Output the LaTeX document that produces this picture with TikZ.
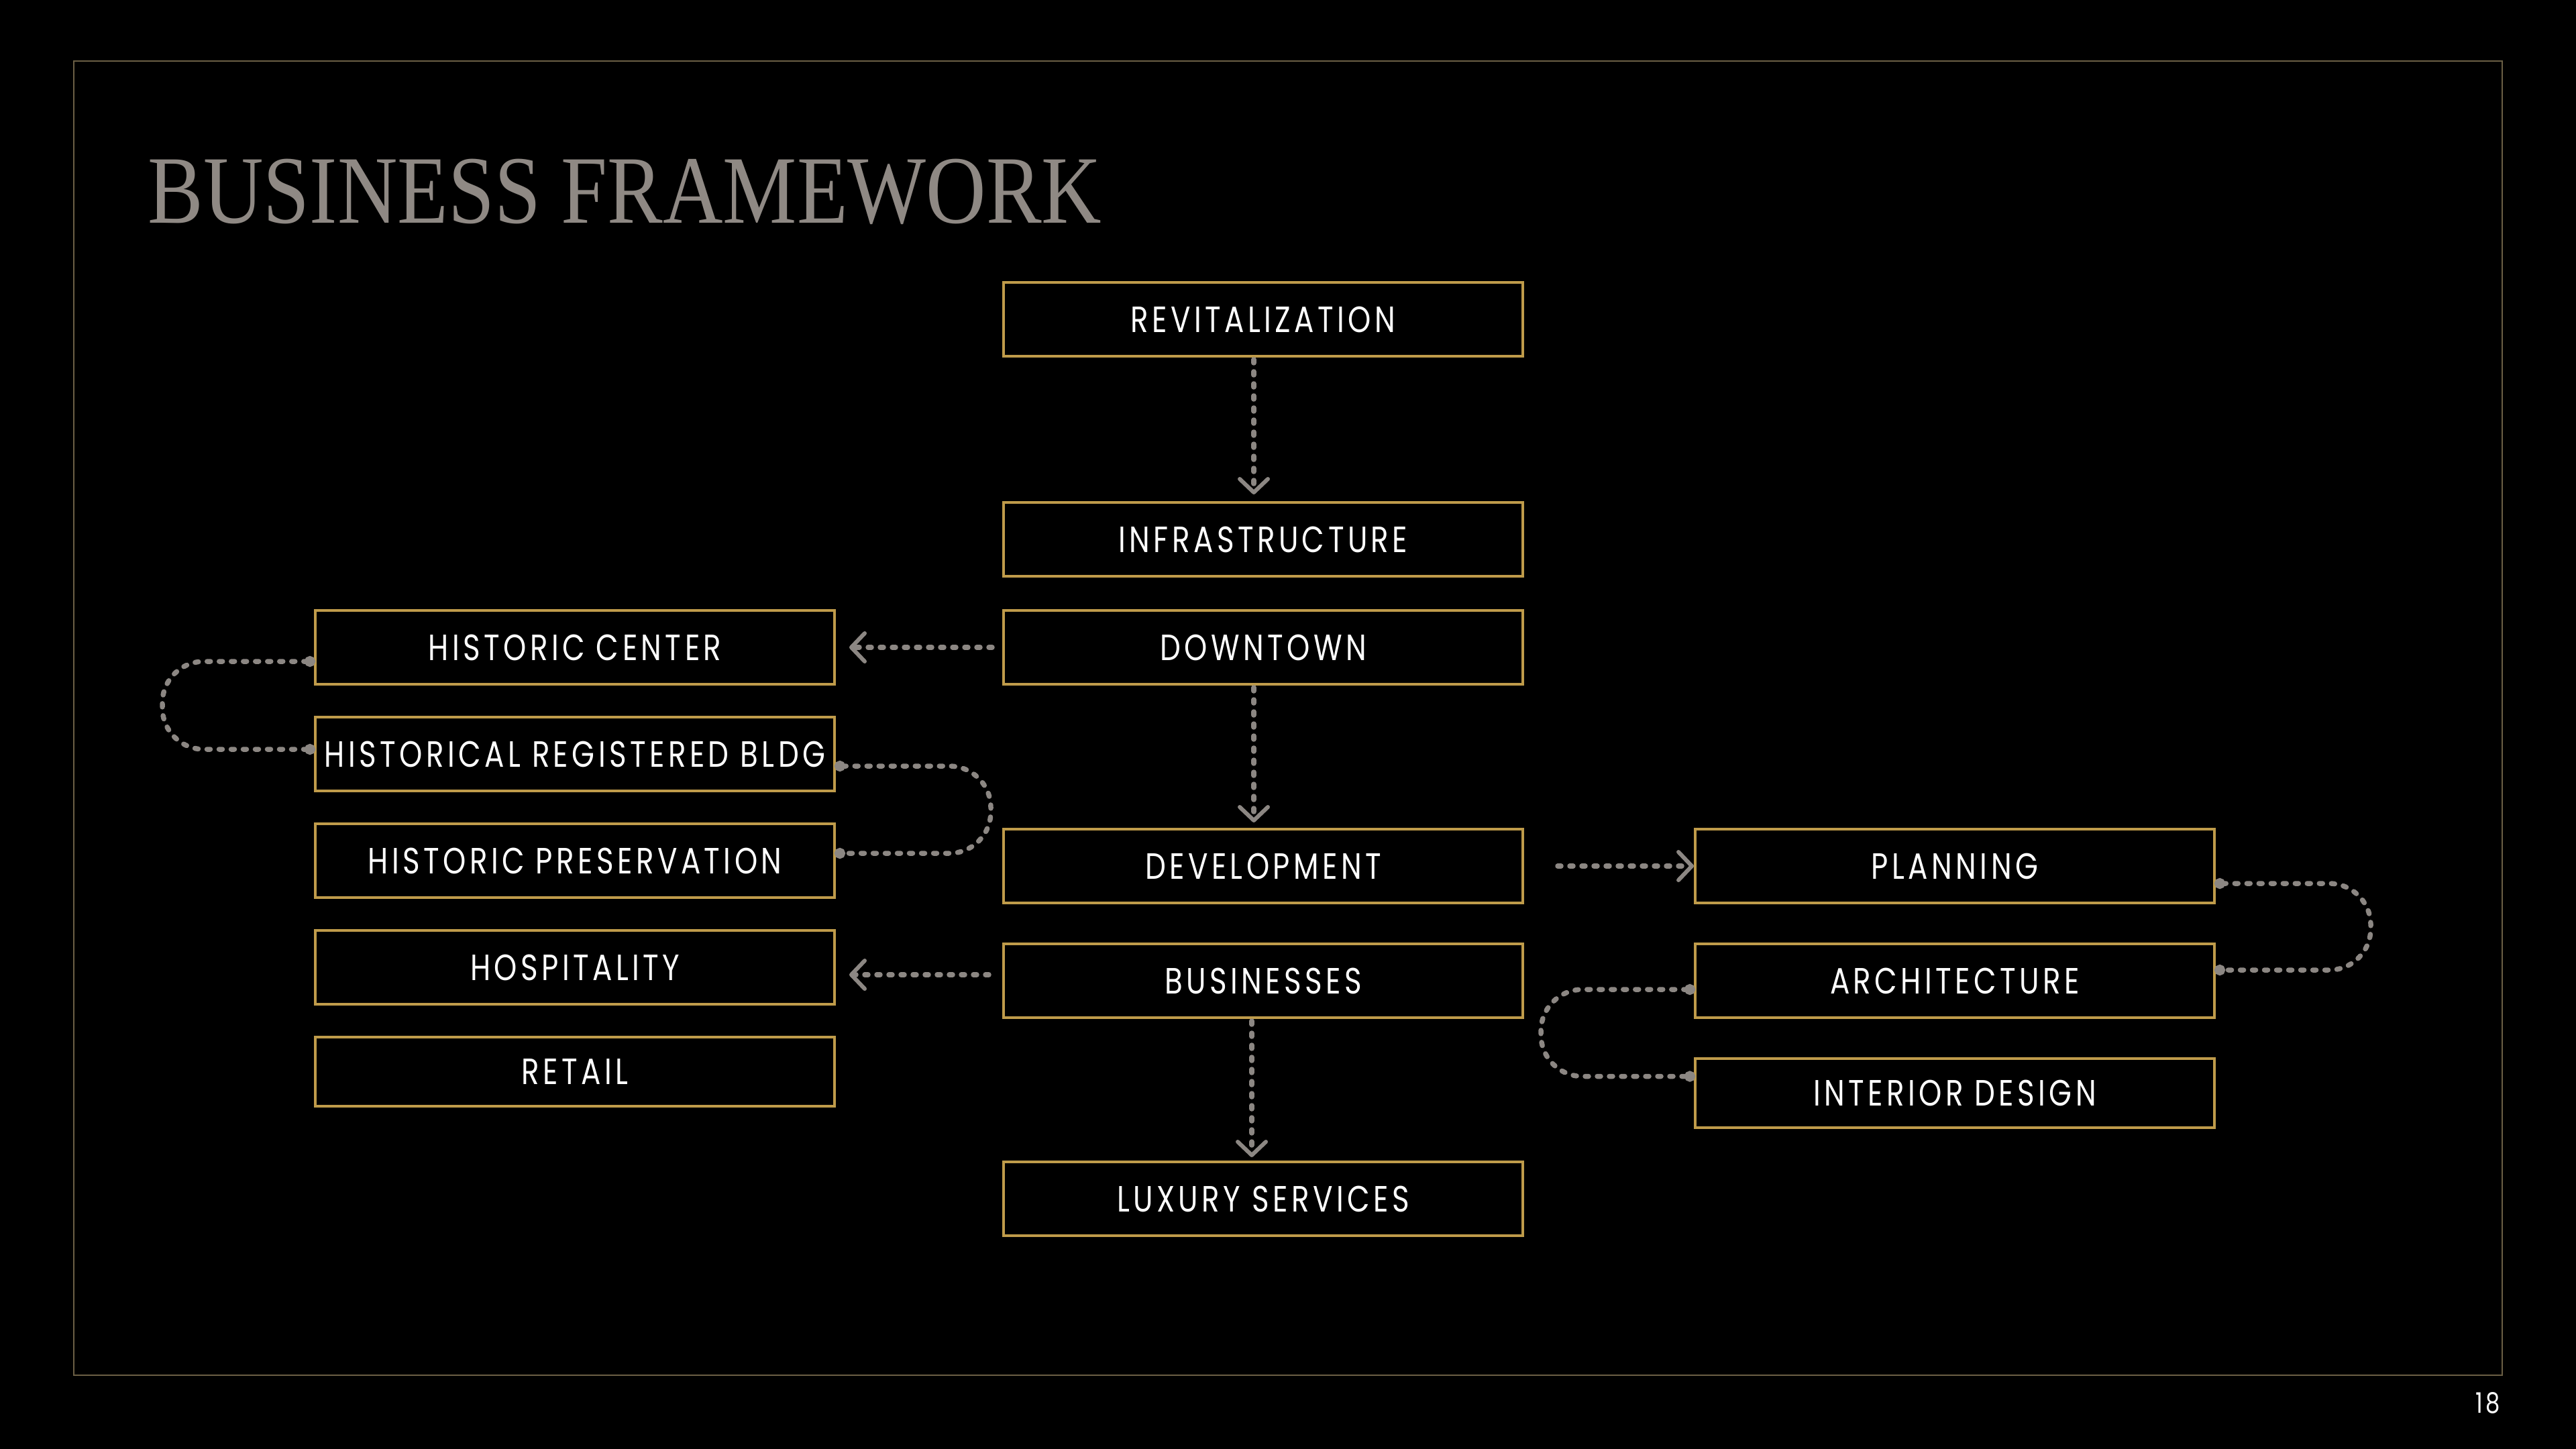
\documentclass[tikz,border=0pt]{standalone}
\usepackage{fontspec}
\usetikzlibrary{positioning, arrows.meta}
\newfontfamily\boxfont{Poppins}[FakeStretch=0.8, LetterSpace=10]
\newfontfamily\titlefont{Liberation Serif}[FakeStretch=0.86]
\definecolor{gold}{HTML}{BF9B4A}
\definecolor{framegold}{HTML}{6B5F45}
\definecolor{titlegray}{HTML}{8F8984}
\definecolor{linkgray}{HTML}{8C8783}

\begin{document}
\begin{tikzpicture}[
      box/.style = {draw=gold, line width=1.2pt, fill=black, text=white, minimum width=7.74cm, minimum height=1.1cm, inner sep=0pt, outer sep=0pt, align=center, font=\boxfont\fontsize{15.5}{18}\selectfont},
      flow/.style = {draw=linkgray, line width=0.075cm, line cap=round, dash pattern=on 0.05cm off 0.13cm, -{Straight Barb[length=0.2cm, width=0.42cm, line width=0.06cm, round]}},
      link/.style = {draw=linkgray, line width=0.075cm, line cap=round, dash pattern=on 0.05cm off 0.13cm, rounded corners=0.62cm, {Circle[length=0.16cm]}-{Circle[length=0.16cm]}}
    ]

    % page and frame
    \fill[black] (0,0) rectangle (38.4,-21.6);
    \draw[framegold, line width=0.8pt] (1.10,-0.91) rectangle (37.30,-20.50);
    \node[anchor=base west, inner sep=0pt, text=titlegray, font=\titlefont\fontsize{41}{41}\selectfont] (title) at (2.20,-3.33) {BUSINESS FRAMEWORK};
    \node[anchor=base east, inner sep=0pt, text=white, font=\boxfont\fontsize{12}{12}\selectfont] (page) at (37.27,-21.06) {18};

    % centre column
    \node[box] (revit) at (18.83,-4.76) {REVITALIZATION};
    \node[box, below=2.18cm of revit] (infra) {INFRASTRUCTURE};
    \node[box, below=0.51cm of infra] (downtown) {DOWNTOWN};
    \node[box, below=2.16cm of downtown] (develop) {DEVELOPMENT};
    \node[box, below=0.61cm of develop] (business) {BUSINESSES};
    \node[box, below=2.15cm of business] (luxury) {LUXURY SERVICES};

    % left column
    \node[box, left=2.52cm of downtown] (histcenter) {HISTORIC CENTER};
    \node[box, below=0.49cm of histcenter] (histreg) {HISTORICAL REGISTERED BLDG};
    \node[box, below=0.49cm of histreg] (histpres) {HISTORIC PRESERVATION};
    \node[box, below=0.49cm of histpres] (hosp) {HOSPITALITY};
    \node[box, below=0.49cm of hosp, minimum height=1.03cm] (retail) {RETAIL};

    % right column
    \node[box, right=2.57cm of develop] (planning) {PLANNING};
    \node[box, below=0.61cm of planning] (archi) {ARCHITECTURE};
    \node[box, below=0.61cm of archi, minimum height=1.03cm] (interior) {INTERIOR DESIGN};

    \draw[flow, shorten <=0.05cm, shorten >=0.12cm] ([xshift=-0.14cm]revit.south) -- ([xshift=-0.14cm]infra.north);
    \draw[flow, shorten <=0.05cm, shorten >=0.10cm] ([xshift=-0.14cm]downtown.south) -- ([xshift=-0.14cm]develop.north);
    \draw[flow, shorten <=0.05cm, shorten >=0.07cm] ([xshift=-0.17cm]business.south) -- ([xshift=-0.17cm]luxury.north);

    \draw[flow, shorten <=0.17cm, shorten >=0.22cm] (downtown.west) -- (histcenter.east);
    \coordinate[above=0.09cm of business.west] (busout);
    \draw[flow, shorten <=0.22cm, shorten >=0.22cm] (busout) -- (hosp.east |- busout);
    \draw[flow, shorten <=0.52cm, shorten >=0.02cm] (develop.east) -- (planning.west);

    \draw[link] ([yshift=-0.21cm]histcenter.west) -- ++(-2.28,0) |- ([yshift=0.07cm]histreg.west);
    \draw[link] ([yshift=-0.18cm]histreg.east) -- ++(2.33,0) |- ([yshift=0.11cm]histpres.east);
    \draw[link] ([yshift=-0.26cm]planning.east) -- ++(2.33,0) |- ([yshift=0.16cm]archi.east);
    \draw[link] ([yshift=-0.13cm]archi.west) -- ++(-2.30,0) |- ([yshift=0.25cm]interior.west);

\end{tikzpicture}
\end{document}
